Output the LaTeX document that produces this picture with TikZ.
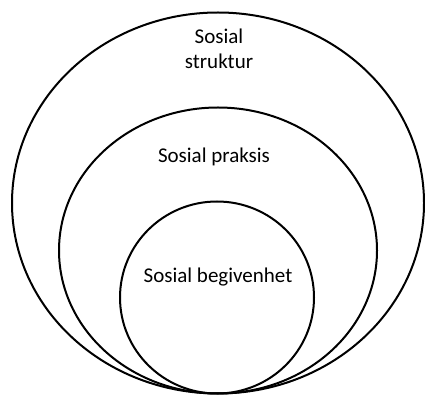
\documentclass[tikz,border=0pt]{standalone}
\usepackage{fontspec}
\setmainfont{Carlito}
\usepackage{tikz}

\begin{document}
\begin{tikzpicture}[x=1pt, y=1pt]
			%%%%% START %%%%%
			\useasboundingbox (0, 0) rectangle (425, 396);
			
			\draw[line width=2pt] (218, 193) ellipse (206pt and 190.5pt);
			\draw[line width=2pt] (218, 145.5) ellipse (159pt and 143pt);
			\draw[line width=2pt] (217, 98.5) ellipse (97pt and 96pt);
			
			\node[font=\fontsize{21}{25}\selectfont, align=center, anchor=base] (struktur) at (219, 327) {Sosial\\struktur};
			\node[font=\fontsize{21}{25}\selectfont, anchor=base] (praksis) at (214, 233) {Sosial praksis};
			\node[font=\fontsize{21}{25}\selectfont, anchor=base] (begivenhet) at (218, 113) {Sosial begivenhet};
			
			%%%%% END %%%%%
\end{tikzpicture}
\end{document}
